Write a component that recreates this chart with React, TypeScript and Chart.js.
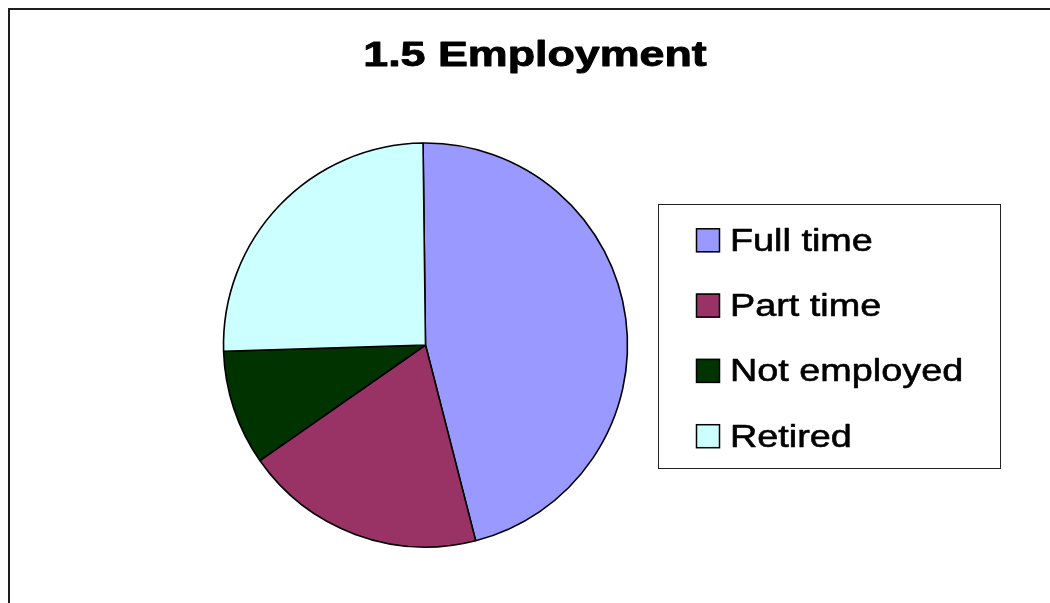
import React, { useEffect, useRef } from "react";
import { Chart, registerables } from "chart.js";

Chart.register(...registerables);

// ---- data ----
const TITLE = "1.5 Employment";
const CATEGORIES = ["Full time", "Part time", "Not employed", "Retired"];
const VALUES = [46.2, 19.3, 9.2, 25.3];
const COLORS = ["#9999FF", "#993366", "#003300", "#CCFFFF"];

// ---- layout (page pixels) ----
const W = 1050;
const H = 603;
const PIE_CX = 425.5;
const PIE_CY = 345;
const PIE_R = 202;
const ROTATION = -0.7;

const TITLE_SIZE = 35;
const TITLE_STRETCH = 1.28;
const TITLE_X = 535;
const TITLE_Y = 66;

const LEG_BOX = { x: 658.5, y: 204.5, w: 342, h: 264 };
const LEG_MARK_X = 696;
const LEG_MARK_TOP = 228.3;
const LEG_STEP = 65.3;
const LEG_MARK = 24;
const LEG_TEXT_X = 730;
const LEG_FONT = 31.5;
const LEG_STRETCH = 1.2;
const FONT_FAMILY = '"Liberation Sans", Arial, Helvetica, sans-serif';

const overlayPlugin = {
  id: "overlay",
  afterDraw(chart: any) {
    const ctx = chart.ctx as CanvasRenderingContext2D;
    // title
    ctx.save();
    ctx.font = `bold ${TITLE_SIZE}px ${FONT_FAMILY}`;
    ctx.fillStyle = "#000";
    ctx.strokeStyle = "#000";
    ctx.lineWidth = 0.9;
    ctx.lineJoin = "round";
    ctx.textAlign = "center";
    ctx.textBaseline = "alphabetic";
    ctx.translate(TITLE_X, TITLE_Y);
    ctx.scale(TITLE_STRETCH, 1);
    ctx.fillText(TITLE, 0, 0);
    ctx.strokeText(TITLE, 0, 0);
    ctx.restore();

    // legend frame
    ctx.save();
    ctx.strokeStyle = "#222";
    ctx.lineWidth = 1;
    ctx.strokeRect(LEG_BOX.x, LEG_BOX.y, LEG_BOX.w, LEG_BOX.h);
    ctx.restore();

    // legend items
    const labels = chart.data.labels as string[];
    const bg = chart.data.datasets[0].backgroundColor as string[];
    labels.forEach((label, i) => {
      const top = LEG_MARK_TOP + i * LEG_STEP;
      ctx.save();
      ctx.fillStyle = bg[i];
      ctx.strokeStyle = "#000";
      ctx.lineWidth = 1.5;
      ctx.fillRect(LEG_MARK_X, top, LEG_MARK, LEG_MARK);
      ctx.strokeRect(LEG_MARK_X + 0.5, top + 0.5, LEG_MARK - 1, LEG_MARK - 1);
      ctx.restore();

      ctx.save();
      ctx.font = `${LEG_FONT}px ${FONT_FAMILY}`;
      ctx.fillStyle = "#000";
      ctx.strokeStyle = "#000";
      ctx.lineWidth = 0.6;
      ctx.lineJoin = "round";
      ctx.textAlign = "left";
      ctx.textBaseline = "alphabetic";
      ctx.translate(LEG_TEXT_X, top + 22.5);
      ctx.scale(LEG_STRETCH, 1);
      ctx.fillText(label, 0, 0);
      ctx.strokeText(label, 0, 0);
      ctx.restore();
    });
  },
};

export default function App() {
  const canvasRef = useRef<HTMLCanvasElement | null>(null);

  useEffect(() => {
    const canvas = canvasRef.current;
    if (!canvas) return;
    const half = PIE_R + 8;
    const chart = new Chart(canvas, {
      type: "pie",
      data: {
        labels: CATEGORIES,
        datasets: [
          {
            data: VALUES,
            backgroundColor: COLORS,
            borderColor: "#000",
            borderWidth: 1.6,
            hoverBorderWidth: 1.6,
            hoverOffset: 0,
            offset: 0,
          },
        ],
      },
      options: {
        responsive: false,
        animation: false,
        devicePixelRatio: 1,
        rotation: ROTATION,
        radius: PIE_R,
        layout: {
          padding: {
            left: PIE_CX - half,
            right: W - (PIE_CX + half),
            top: PIE_CY - half,
            bottom: H - (PIE_CY + half),
          },
        },
        plugins: {
          legend: { display: false },
          title: { display: false },
          tooltip: { enabled: false },
        },
        events: [],
      } as any,
      plugins: [overlayPlugin],
    });
    return () => chart.destroy();
  }, []);

  return (
    <div
      style={{
        position: "fixed",
        left: 0,
        top: 0,
        width: W,
        height: H,
        overflow: "hidden",
        background: "#fff",
      }}
    >
      <div
        style={{
          position: "absolute",
          left: 8,
          top: 8,
          width: 1200,
          height: 800,
          borderLeft: "2px solid #1e1e1e",
          borderTop: "2px solid #1e1e1e",
        }}
      />
      <canvas
        ref={canvasRef}
        width={W}
        height={H}
        style={{ position: "absolute", left: 0, top: 0, width: W, height: H }}
      />
    </div>
  );
}
